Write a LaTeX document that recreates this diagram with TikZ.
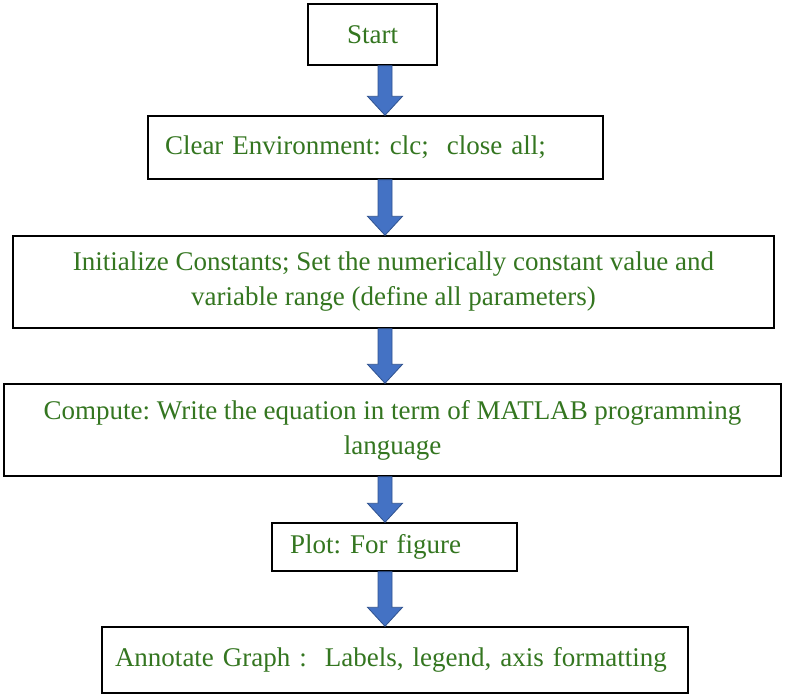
\documentclass[tikz,border=0pt]{standalone}
\usepackage{fontspec}
\setmainfont{Liberation Serif}
\usetikzlibrary{calc}
\frenchspacing
\definecolor{txtgreen}{RGB}{52,118,32}
\definecolor{arrfill}{RGB}{68,114,196}
\definecolor{arrline}{RGB}{47,82,143}
\newcommand\blockarrow[2]{%
  \draw[blk] let \p1=(#1.south -| ax), \p2=(#2.north -| ax) in
    (\x1-7pt,\y1) -- (\x1-7pt,\y2+19pt) -- (\x1-17.5pt,\y2+19pt) -- (\x2,\y2)
    -- (\x1+17.5pt,\y2+19pt) -- (\x1+7pt,\y2+19pt) -- (\x1+7pt,\y1) -- cycle;}
\begin{document}
\begin{tikzpicture}[x=1pt,y=-1pt,
  box/.style={draw=black, line width=1.4pt, fill=white,
    font=\fontsize{27}{35}\selectfont\frenchspacing, text=txtgreen, inner sep=0pt, anchor=center},
  blk/.style={fill=arrfill, draw=arrline, line width=0.8pt, line join=miter}]
\useasboundingbox (0,0) rectangle (786,698);
\coordinate (ax) at (385,0);
\node[box, minimum width=129pt, minimum height=61pt] (start) at (372.5,34.5) {Start};
\node[box, minimum width=455pt, minimum height=63pt, text width=421pt, align=left] (clear) at (375.5,147.5) {\mbox{Clear Environment: clc;\ \ close all;}};
\node[box, minimum width=761pt, minimum height=92pt, align=center] (init) at (393.5,282) {Initialize Constants; Set the numerically constant value and\\variable range (define all parameters)};
\node[box, minimum width=777pt, minimum height=92pt, align=center] (comp) at (392.5,430) {Compute: Write the equation in term of MATLAB programming\\language};
\node[box, minimum width=245pt, minimum height=48pt, text width=209pt, align=left] (plotbox) at (394.5,547) {\mbox{Plot: For figure}};
\node[box, minimum width=586pt, minimum height=66pt, text width=560pt, align=left] (annot) at (395,660) {\mbox{Annotate Graph :\ \ Labels, legend, axis formatting}};
\blockarrow{start}{clear}
\blockarrow{clear}{init}
\blockarrow{init}{comp}
\blockarrow{comp}{plotbox}
\blockarrow{plotbox}{annot}
\end{tikzpicture}
\end{document}
